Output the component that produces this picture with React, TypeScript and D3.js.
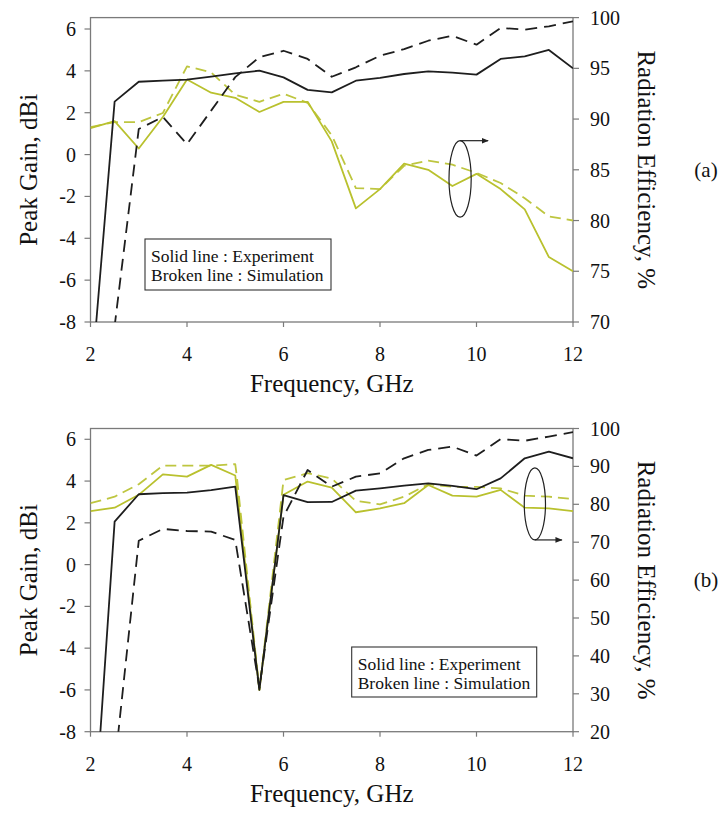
import React from 'react';
import * as d3 from 'd3';

// ---------- data ----------
const freq = [2, 2.5, 3, 3.5, 4, 4.5, 5, 5.5, 6, 6.5, 7, 7.5, 8, 8.5, 9, 9.5, 10, 10.5, 11, 11.5, 12];
const freqTicks = [2, 4, 6, 8, 10, 12];
const gainTicks = [-8, -6, -4, -2, 0, 2, 4, 6];
const effTicksA = [70, 75, 80, 85, 90, 95, 100];
const effTicksB = [20, 30, 40, 50, 60, 70, 80, 90, 100];

// (a) peak gain (dBi) and radiation efficiency (%)
const gainExpA = [-11.3, 2.53, 3.48, 3.53, 3.58, 3.72, 3.88, 4.01, 3.69, 3.09, 2.97, 3.53, 3.66, 3.85, 3.98, 3.92, 3.82, 4.57, 4.69, 5.0, 4.12];
const gainSimA = [-20, -8.2, 1.22, 1.8, 0.5, 2.1, 3.7, 4.65, 4.96, 4.57, 3.72, 4.17, 4.72, 5.04, 5.44, 5.68, 5.25, 6.05, 5.97, 6.13, 6.37];
const effExpA = [89.1, 89.8, 87.1, 90.2, 93.9, 92.6, 92.1, 90.7, 91.7, 91.7, 87.8, 81.2, 83.1, 85.6, 85.0, 83.4, 84.6, 83.1, 81.1, 76.4, 75.0];
const effSimA = [89.2, 89.7, 89.7, 90.6, 95.2, 94.6, 92.4, 91.7, 92.5, 91.6, 88.4, 83.2, 83.1, 85.4, 85.9, 85.5, 84.7, 83.7, 82.2, 80.4, 80.0];

// (b)
const gainExpB = [-15, 2.06, 3.37, 3.42, 3.45, 3.57, 3.73, -6.0, 3.33, 2.99, 3.0, 3.54, 3.65, 3.78, 3.89, 3.77, 3.61, 4.13, 5.09, 5.41, 5.09];
const gainSimB = [-20, -9.7, 1.14, 1.71, 1.61, 1.58, 1.18, -5.9, 2.3, 4.53, 3.73, 4.21, 4.37, 5.09, 5.49, 5.65, 5.22, 6.01, 5.93, 6.13, 6.34];
const effExpB = [78.2, 79.1, 82.5, 87.9, 87.3, 90.4, 87.6, 31.0, 82.5, 86.0, 84.4, 77.9, 78.9, 80.3, 85.1, 82.3, 82.0, 83.8, 79.1, 78.9, 78.2];
const freqEffSimB = [2, 2.5, 3, 3.5, 4, 4.5, 5, 5.03, 5.5, 5.97, 6, 6.5, 7, 7.5, 8, 8.5, 9, 9.5, 10, 10.5, 11, 11.5, 12];
const effSimB = [80.3, 82.0, 85.3, 90.2, 90.2, 90.2, 90.6, 87.7, 31.0, 83.0, 86.4, 88.2, 86.8, 80.9, 80.0, 82.0, 85.3, 84.6, 84.6, 84.2, 82.3, 82.0, 81.4];

const legendLines = ['Solid line : Experiment', 'Broken line : Simulation'];

// ---------- style ----------
const FONT = 'Liberation Serif, Tinos, Times New Roman, DejaVu Serif, serif';
const BLACK = '#1e1e1e';
const YELLOW = '#b9c12e';
const YELLOW_D = '#bec640';
const AXIS = '#7a7a7a';

type Series = { xs: number[]; ys: number[]; axis: 'g' | 'e'; color: string; dash?: string };

type PanelProps = {
  id: string;
  top: number;
  bottom: number;
  gainMax: number;
  effDomain: [number, number];
  effTicks: number[];
  series: Series[];
  legend: { x: number; y: number; w: number; h: number };
  ellipse: { f: number; e: number; rf: number; re: number; toF: number; fromTop: boolean };
  tag: string;
};

const X0 = 90.5;
const X1 = 573;

function Panel(p: PanelProps) {
  const x = d3.scaleLinear().domain([2, 12]).range([X0, X1]);
  const yg = d3.scaleLinear().domain([-8, p.gainMax]).range([p.bottom, p.top]);
  const ye = d3.scaleLinear().domain(p.effDomain).range([p.bottom, p.top]);
  const mid = (p.top + p.bottom) / 2;

  const paths = p.series.map((s, i) => {
    const yy = s.axis === 'g' ? yg : ye;
    const gen = d3
      .line<[number, number]>()
      .x((d) => x(d[0]))
      .y((d) => yy(d[1]));
    const pts: [number, number][] = s.xs.map((f, k) => [f, s.ys[k]]);
    return (
      <path
        key={i}
        d={gen(pts) || ''}
        fill="none"
        stroke={s.color}
        strokeWidth={1.8}
        strokeDasharray={s.dash}
        strokeLinejoin="round"
      />
    );
  });

  const el = p.ellipse;
  const cx = x(el.f);
  const cy = ye(el.e);
  const rx = x(el.f + el.rf) - cx;
  const ry = cy - ye(el.e + el.re);
  const ay = el.fromTop ? cy - ry : cy + ry;
  const ax2 = x(el.toF);

  const txt = { fontFamily: FONT, fill: '#111' } as const;

  return (
    <g>
      <defs>
        <clipPath id={`clip-${p.id}`}>
          <rect x={X0} y={p.top} width={X1 - X0} height={p.bottom - p.top} />
        </clipPath>
        <marker id={`arr-${p.id}`} viewBox="0 0 10 10" refX="9" refY="5" markerWidth="6" markerHeight="6" orient="auto">
          <path d="M0,1 L10,5 L0,9 z" fill="#222" />
        </marker>
      </defs>

      {/* frame */}
      <rect x={X0} y={p.top} width={X1 - X0} height={p.bottom - p.top} fill="none" stroke={AXIS} strokeWidth={1.3} />

      {/* left ticks */}
      {gainTicks.map((t) => (
        <g key={`gl${t}`}>
          <line x1={X0 - 6} x2={X0} y1={yg(t)} y2={yg(t)} stroke={AXIS} strokeWidth={1.2} />
          <text x={76} y={yg(t)} dy="0.35em" textAnchor="end" style={{ ...txt, fontSize: 20 }}>
            {t}
          </text>
        </g>
      ))}

      {/* right ticks */}
      {p.effTicks.map((t) => (
        <g key={`er${t}`}>
          <line x1={X1} x2={X1 + 6} y1={ye(t)} y2={ye(t)} stroke={AXIS} strokeWidth={1.2} />
          <text x={590} y={ye(t)} dy="0.35em" textAnchor="start" style={{ ...txt, fontSize: 20 }}>
            {t}
          </text>
        </g>
      ))}

      {/* bottom ticks */}
      {freqTicks.map((t) => (
        <g key={`fx${t}`}>
          <line x1={x(t)} x2={x(t)} y1={p.bottom} y2={p.bottom + 5} stroke={AXIS} strokeWidth={1.2} />
          <text x={x(t)} y={p.bottom + 39} textAnchor="middle" style={{ ...txt, fontSize: 20 }}>
            {t}
          </text>
        </g>
      ))}

      {/* axis titles */}
      <text transform={`translate(37,${mid}) rotate(-90)`} textAnchor="middle" style={{ ...txt, fontSize: 25 }}>
        Peak Gain, dBi
      </text>
      <text transform={`translate(638,${mid}) rotate(90)`} textAnchor="middle" style={{ ...txt, fontSize: 25 }}>
        Radiation Efficiency, %
      </text>
      <text x={(X0 + X1) / 2} y={p.bottom + 70} textAnchor="middle" style={{ ...txt, fontSize: 25 }}>
        Frequency, GHz
      </text>
      <text x={706} y={mid} dy="0.35em" textAnchor="middle" style={{ ...txt, fontSize: 21 }}>
        {p.tag}
      </text>

      {/* data */}
      <g clipPath={`url(#clip-${p.id})`}>{paths}</g>

      {/* legend */}
      <rect x={p.legend.x} y={p.legend.y} width={p.legend.w} height={p.legend.h} fill="#fff" stroke="#333" strokeWidth={1.1} />
      {legendLines.map((s, i) => (
        <text key={s} x={p.legend.x + 6} y={p.legend.y + 23 + i * 19} style={{ ...txt, fontSize: 17.5 }}>
          {s}
        </text>
      ))}

      {/* ellipse annotation */}
      <ellipse cx={cx} cy={cy} rx={rx} ry={ry} fill="none" stroke="#222" strokeWidth={1.2} />
      <line x1={cx} y1={ay} x2={ax2} y2={ay} stroke="#222" strokeWidth={1.2} markerEnd={`url(#arr-${p.id})`} />
    </g>
  );
}

export default function App() {
  const seriesA: Series[] = [
    { xs: freq, ys: effSimA, axis: 'e', color: YELLOW_D, dash: '11,6' },
    { xs: freq, ys: effExpA, axis: 'e', color: YELLOW },
    { xs: freq, ys: gainSimA, axis: 'g', color: BLACK, dash: '12,7' },
    { xs: freq, ys: gainExpA, axis: 'g', color: BLACK },
  ];
  const seriesB: Series[] = [
    { xs: freqEffSimB, ys: effSimB, axis: 'e', color: YELLOW_D, dash: '11,6' },
    { xs: freq, ys: effExpB, axis: 'e', color: YELLOW },
    { xs: freq, ys: gainSimB, axis: 'g', color: BLACK, dash: '12,7' },
    { xs: freq, ys: gainExpB, axis: 'g', color: BLACK },
  ];
  return (
    <svg
      width={722}
      height={821}
      viewBox="0 0 722 821"
      style={{ position: 'absolute', left: 0, top: 0, background: '#fff' }}
    >
      <rect width={722} height={821} fill="#fff" />
      <Panel
        id="a"
        top={17.6}
        bottom={322}
        gainMax={6.545}
        effDomain={[70, 100]}
        effTicks={effTicksA}
        series={seriesA}
        legend={{ x: 145, y: 239, w: 186, h: 51 }}
        ellipse={{ f: 9.66, e: 84.1, rf: 0.23, re: 3.77, toF: 10.24, fromTop: true }}
        tag="(a)"
      />
      <Panel
        id="b"
        top={428.5}
        bottom={731.7}
        gainMax={6.517}
        effDomain={[20, 100]}
        effTicks={effTicksB}
        series={seriesB}
        legend={{ x: 351.7, y: 647, w: 185, h: 50 }}
        ellipse={{ f: 11.21, e: 80.1, rf: 0.22, re: 9.5, toF: 11.77, fromTop: false }}
        tag="(b)"
      />
    </svg>
  );
}
